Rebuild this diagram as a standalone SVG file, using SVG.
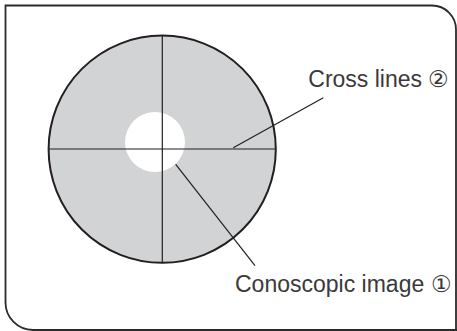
<svg xmlns="http://www.w3.org/2000/svg" width="457" height="331" viewBox="0 0 457 331">
<style>
.lbl{font-family:"Liberation Sans",Arial,sans-serif;font-size:23px;fill:#3a3a3a;}
.ln{stroke:#231f20;stroke-width:1.2;fill:none;}
</style>
<rect width="457" height="331" fill="#fff"/>
<g id="frame">
<path d="M456,331 V29.5 A24,24 0 0 0 432,5.5 H5.5 V302.5 A27.5,27.5 0 0 0 33,330 H457" fill="none" stroke="#2b2b2b" stroke-width="1.8"/>
</g>
<g id="field">
<circle cx="162.2" cy="149.2" r="113.6" fill="#d1d3d4" stroke="#231f20" stroke-width="2"/>
<circle cx="155" cy="142" r="30" fill="#fff"/>
</g>
<g id="crosslines">
<line class="ln" x1="162.3" y1="35.6" x2="162.3" y2="262.8"/>
<line class="ln" x1="48.6" y1="149" x2="275.8" y2="149"/>
</g>
<g id="connectors">
<line class="ln" x1="233.3" y1="147.7" x2="323.3" y2="97.7"/>
<line class="ln" x1="175.7" y1="164.3" x2="255" y2="265.7"/>
</g>
<g id="label-cross">
<text class="lbl" x="308.3" y="87.3">Cross lines ②</text>
</g>
<g id="label-cono">
<text class="lbl" x="235" y="291.7">Conoscopic image ①</text>
</g>
</svg>
